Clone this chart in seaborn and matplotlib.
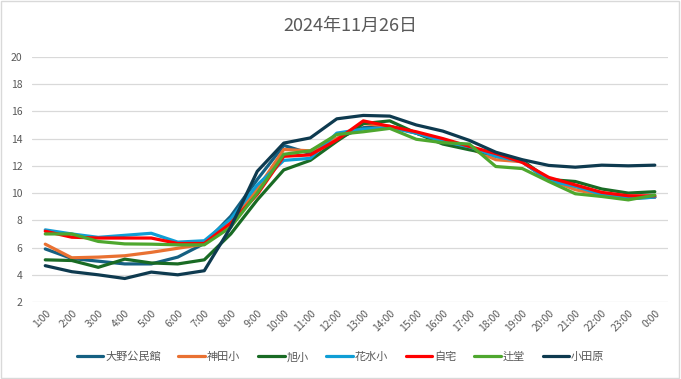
import numpy as np
import pandas as pd
import seaborn as sns
import matplotlib
matplotlib.use('Agg')
from matplotlib import pyplot as plt
from matplotlib.patches import Rectangle


## DADOS

horas = ['1:00', '2:00', '3:00', '4:00', '5:00', '6:00', '7:00', '8:00', '9:00', '10:00', '11:00', '12:00',
         '13:00', '14:00', '15:00', '16:00', '17:00', '18:00', '19:00', '20:00', '21:00', '22:00', '23:00', '0:00']

oono = [5.9, 5.2, 5.0, 4.8, 4.8, 5.3, 6.3, 8.3, 11.0, 13.5, 12.9, 14.0,
        14.8, 14.9, 14.4, 13.8, 13.4, 12.7, 12.3, 10.9, 10.5, 9.9, 9.6, 9.7]
kanda = [6.25, 5.25, 5.3, 5.4, 5.65, 5.95, 6.25, 7.8, 10.3, 13.2, 13.1, 14.0,
         15.1, 14.9, 14.4, 13.8, 13.3, 12.45, 12.3, 11.0, 10.25, 9.85, 9.7, 9.7]
asahi = [5.1, 5.05, 4.55, 5.15, 4.87, 4.8, 5.1, 7.0, 9.5, 11.7, 12.4, 13.8,
         15.1, 15.3, 14.4, 13.6, 13.18, 12.8, 12.4, 11.0, 10.85, 10.3, 10.0, 10.1]
hanamizu = [7.3, 7.0, 6.75, 6.9, 7.05, 6.4, 6.5, 8.1, 10.6, 12.4, 12.55, 14.4,
            14.7, 14.8, 14.4, 13.8, 13.4, 12.7, 12.3, 10.9, 10.5, 9.9, 9.6, 9.7]
jitaku = [7.2, 6.76, 6.7, 6.7, 6.7, 6.3, 6.3, 7.8, 9.9, 12.7, 12.8, 13.9,
          15.3, 14.9, 14.5, 14.0, 13.43, 12.9, 12.25, 11.15, 10.6, 10.05, 9.8, 9.8]
tsujido = [7.0, 7.0, 6.45, 6.27, 6.25, 6.2, 6.2, 7.5, 10.0, 12.85, 13.1, 14.3,
           14.5, 14.75, 13.95, 13.7, 13.6, 11.95, 11.8, 10.85, 9.95, 9.75, 9.5, 9.85]
odawara = [4.67, 4.23, 4.0, 3.73, 4.2, 4.0, 4.3, 7.5, 11.6, 13.67, 14.05, 15.45,
           15.7, 15.65, 15.0, 14.55, 13.87, 13.0, 12.45, 12.03, 11.9, 12.05, 12.0, 12.05]

series = {'大野公民館': oono, '神田小': kanda, '旭小': asahi, '花水小': hanamizu,
          '自宅': jitaku, '辻堂': tsujido, '小田原': odawara}
cores = ['#156082', '#E97132', '#196B24', '#0F9ED5', '#FF0000', '#4EA72E', '#0E3A4F']

df = pd.DataFrame([(nome, i, v) for nome, vals in series.items() for i, v in enumerate(vals)],
                  columns=['local', 'hora', 'temp'])


## GRAFICO

sns.set_theme(style='white')
plt.rcParams['font.family'] = ['Noto Sans CJK JP', 'DejaVu Sans']
cinza = '#595959'

fig = plt.figure(figsize=(6.81, 3.79), dpi=100)
ax = fig.add_axes([0.047, 0.203, 0.934, 0.647])

sns.lineplot(data=df, x='hora', y='temp', hue='local', palette=cores,
             linewidth=2.3, ax=ax, legend=True)

ax.set_xlim(-0.5, len(horas) - 0.5)
ax.set_ylim(2, 20)
ax.set_yticks(np.arange(2, 21, 2))
ax.set_xticks(range(len(horas)))
ax.set_xticklabels(horas, rotation=45, ha='right', rotation_mode='anchor')
ax.tick_params(axis='x', labelsize=7.5, colors=cinza, length=0, pad=4)
ax.tick_params(axis='y', labelsize=7.5, colors=cinza, length=0, pad=7)
ax.grid(axis='y', color='#D9D9D9', linewidth=0.9)
ax.set_axisbelow(True)
for s in ['top', 'right', 'left', 'bottom']:
    ax.spines[s].set_visible(False)
ax.set_xlabel('')
ax.set_ylabel('')

ax.set_title('2024年11月26日', fontsize=13, color=cinza, pad=19)

handles, labels = ax.get_legend_handles_labels()
ax.legend(handles, labels, ncol=7, loc='center', bbox_to_anchor=(0.5, 0.058),
          bbox_transform=fig.transFigure, frameon=False, fontsize=8, labelcolor=cinza,
          handlelength=2.4, handletextpad=0.15, columnspacing=1.6)

fig.add_artist(Rectangle((0.002, 0.003), 0.995, 0.994, transform=fig.transFigure,
                         fill=False, edgecolor='#D9D9D9', linewidth=1))

plt.savefig('out.png', dpi=100)
